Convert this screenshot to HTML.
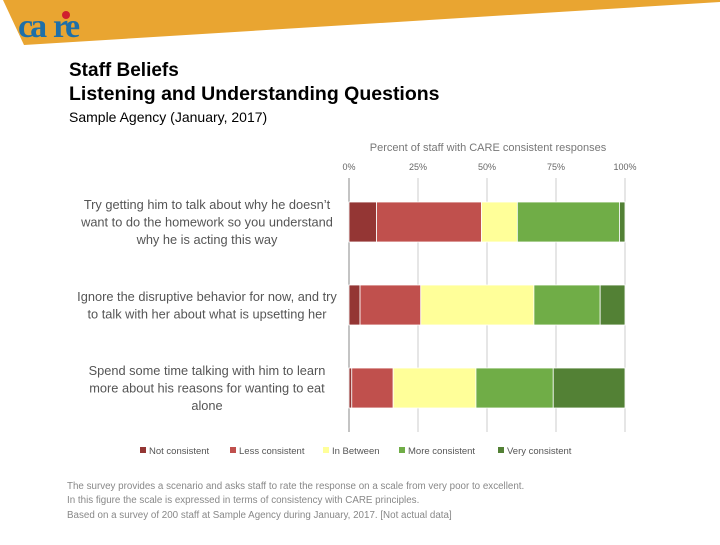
<!DOCTYPE html>
<html><head><meta charset="utf-8"><style>
body{margin:0;background:#fff;width:720px;height:540px;overflow:hidden;font-family:"Liberation Sans",sans-serif}
</style></head><body>
<svg width="720" height="540" viewBox="0 0 720 540" font-family="Liberation Sans, sans-serif">
<polygon points="3,0 720,0 720,2 24,45" fill="#E9A531"/>
<g font-family="Liberation Serif, serif" font-weight="bold" fill="#1E6FA8" font-size="34">
<text x="18" y="37" letter-spacing="-3">ca</text>
<text x="53" y="37">r</text>
<circle cx="66" cy="15" r="4" fill="#D0202E"/>
<text x="65" y="37">e</text>
</g>
<text x="69" y="76" font-size="19" font-weight="bold" fill="#000">Staff Beliefs</text>
<text x="69" y="100" font-size="19.5" font-weight="bold" fill="#000">Listening and Understanding Questions</text>
<text x="69" y="122" font-size="14" fill="#000">Sample Agency (January, 2017)</text>
<text x="488" y="151" font-size="11" fill="#777" text-anchor="middle">Percent of staff with CARE consistent responses</text>
<g id="grid"></g><g id="bars"></g><g id="ylabels"></g><g id="legend"></g>
<g fill="#888" font-size="9.8">
<text x="67" y="489">The survey provides a scenario and asks staff to rate the response on a scale from very poor to excellent.</text>
<text x="67" y="503">In this figure the scale is expressed in terms of consistency with CARE principles.</text>
<text x="67" y="518">Based on a survey of 200 staff at Sample Agency during January, 2017. [Not actual data]</text>
</g>
</svg>
<script>
const categories=["Try getting him to talk about why he doesn’t|want to do the homework so you understand|why he is acting this way","Ignore the disruptive behavior for now, and try|to talk with her about what is upsetting her","Spend some time talking with him to learn|more about his reasons for wanting to eat|alone"];
const seriesNames=["Not consistent","Less consistent","In Between","More consistent","Very consistent"];
const notConsistent=[10,4,1];
const lessConsistent=[38,22,15];
const inBetween=[13,41,30];
const moreConsistent=[37,24,28];
const veryConsistent=[2,9,26];
const ticks=[0,25,50,75,100];
const colors=["#943634","#C0504D","#FFFF99","#70AD47","#538135"];
const NS="http://www.w3.org/2000/svg";
const x0=349,x1=625,yTop=178,yBot=432;
const xs=v=>x0+(x1-x0)*v/100;
const barY=i=>202+83*i;
const barH=40;
function mk(t,a,p){const e=document.createElementNS(NS,t);for(const k in a)e.setAttribute(k,a[k]);p.appendChild(e);return e;}
const grid=document.getElementById('grid');
ticks.forEach(t=>{
 const l=mk('line',{x1:xs(t),x2:xs(t),y1:yTop,y2:yBot,stroke:t===0?'#888':'#ccc','stroke-width':1},grid);
 
 
 const tx=mk('text',{x:xs(t),y:170,'font-size':9,fill:'#666','text-anchor':'middle'},grid);
 tx.textContent=t+'%';
 
 
});
const series=[notConsistent,lessConsistent,inBetween,moreConsistent,veryConsistent];
const bars=document.getElementById('bars');
categories.forEach((c,i)=>{
 let acc=0;
 series.forEach((s,j)=>{
  const r=mk('rect',{x:xs(acc),y:barY(i),width:xs(acc+s[i])-xs(acc),height:barH,fill:colors[j],stroke:'#fff','stroke-width':0.8},bars);
  
  
  acc+=s[i];
 });
 const lines=c.split('|');
 const g=mk('g',{},document.getElementById('ylabels'));
 
 
 const cy=barY(i)+barH/2;
 lines.forEach((ln,k)=>{
  const t=mk('text',{x:207,y:cy+(k-(lines.length-1)/2)*17.5+4.5,'font-size':12.8,fill:'#555','text-anchor':'middle'},g);
  t.textContent=ln;
 });
});
const lg=document.getElementById('legend');
const lx=[139,229,322,398,497];
seriesNames.forEach((n,j)=>{
 const g=mk('g',{},lg);
 
 
 mk('rect',{x:lx[j]+1,y:447,width:6,height:6,fill:colors[j]},g);
 const t=mk('text',{x:lx[j]+10,y:454,'font-size':9.5,fill:'#555'},g);
 t.textContent=n;
});
</script>
</body></html>
